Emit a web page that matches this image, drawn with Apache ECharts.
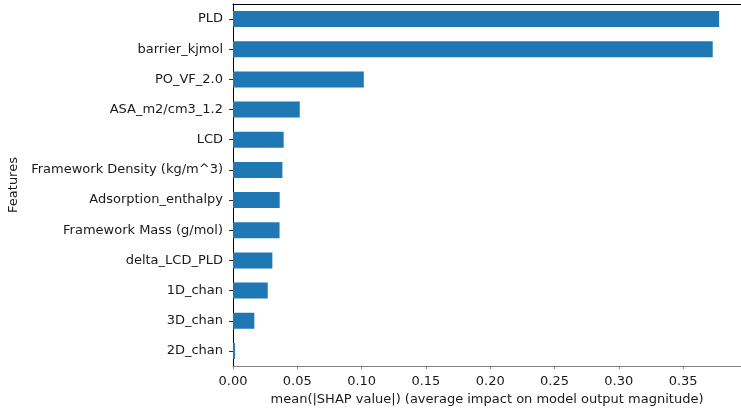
<!DOCTYPE html>
<html>
<head>
<meta charset="utf-8">
<script src="https://cdn.jsdelivr.net/npm/echarts@6/dist/echarts.min.js"></script>
<style>
html,body{margin:0;padding:0;background:#fff;}
#chart{width:741px;height:408px;}
</style>
</head>
<body>
<div id="chart"></div>
<script>
// Features listed bottom-to-top (category axis starts at bottom)
const features = ["2D_chan","3D_chan","1D_chan","delta_LCD_PLD","Framework Mass (g/mol)","Adsorption_enthalpy","Framework Density (kg/m^3)","LCD","ASA_m2/cm3_1.2","PO_VF_2.0","barrier_kjmol","PLD"];
const shapValues = [0.0015,0.0166,0.0270,0.0306,0.0362,0.0363,0.0384,0.0394,0.0519,0.1017,0.3730,0.3780];
const xTicks = [0,0.05,0.10,0.15,0.20,0.25,0.30,0.35];
const xMax = 0.395;
const xLabel = "mean(|SHAP value|) (average impact on model output magnitude)";
const yLabel = "Features";

const font = "DejaVu Sans";
const chart = echarts.init(document.getElementById('chart'), null, {renderer:'canvas'});
chart.setOption({
  animation:false,
  backgroundColor:'#ffffff',
  grid:{left:233,right:0,top:4,bottom:42,containLabel:false,outerBoundsMode:'none'},
  xAxis:[{
    type:'value',min:0,max:xMax,interval:0.05,position:'bottom',
    name:xLabel,nameLocation:'middle',nameGap:24,
    nameTextStyle:{fontFamily:font,fontSize:13,color:'#1a1a1a'},
    axisLine:{show:true,lineStyle:{color:'#808080',width:1}},
    axisTick:{show:true,length:3,lineStyle:{color:'#808080'}},
    axisLabel:{fontFamily:font,fontSize:13,color:'#1a1a1a',margin:9,showMaxLabel:false,
      formatter:v=>xTicks.some(t=>Math.abs(t-v)<1e-9)?v.toFixed(2):''},
    splitLine:{show:false}
  },{
    type:'value',min:0,max:xMax,position:'top',
    axisLine:{show:true,lineStyle:{color:'#000',width:1}},
    axisTick:{show:false},axisLabel:{show:false},splitLine:{show:false}
  }],
  yAxis:{
    type:'category',data:features,boundaryGap:true,
    name:yLabel,nameLocation:'middle',nameGap:212,
    nameTextStyle:{fontFamily:font,fontSize:13,color:'#1a1a1a'},
    axisLine:{show:true,lineStyle:{color:'#000',width:1}},
    axisTick:{show:true,alignWithLabel:true,length:4,lineStyle:{color:'#333'}},
    axisLabel:{fontFamily:font,fontSize:13,color:'#1a1a1a',margin:10}
  },
  series:[{
    type:'bar',data:shapValues,barWidth:16,xAxisIndex:0,
    itemStyle:{color:'#1f77b4'}
  }]
});
</script>
</body>
</html>
